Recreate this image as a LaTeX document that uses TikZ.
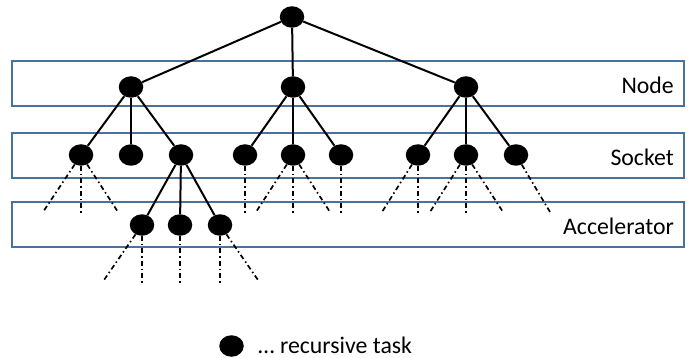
\documentclass[tikz,border=0pt]{standalone}
\usepackage{fontspec}
\setmainfont{Carlito}
\usetikzlibrary{positioning,shapes.geometric}

\definecolor{bandblue}{RGB}{70,115,160}

\begin{document}
\begin{tikzpicture}[x=1pt,y=-1pt,
			task node/.style={ellipse,fill=black,draw=none,inner sep=0pt,
				minimum width=24.5pt,minimum height=21.5pt},
			band node/.style={rectangle,draw=bandblue,line width=1.3pt,
				minimum width=672pt,minimum height=45pt,inner sep=0pt},
			layer text/.style={anchor=east,inner sep=0pt,
				font=\fontsize{23.8}{28}\selectfont},
			tree edge/.style={line width=2pt},
			stub edge/.style={line width=1.7pt,dash pattern=on 5pt off 3pt on 1.5pt off 3pt}
			]
			\useasboundingbox (0,0) rectangle (693,358);
			
			% layers
			\node[band node] (NB) at (348,83.5) {};
			\node[band node] (SB) at (348,155.5) {};
			\node[band node] (AB) at (348,224.5) {};
			\node[layer text] (NT) at (674,85) {Node};
			\node[layer text] (ST) at (674,157) {Socket};
			\node[layer text] (AT) at (674,226) {Accelerator};
			
			% tasks
			\node[task node] (R) at (292,17) {};
			\node[task node] (N1) at (131,87) {};
			\node[task node] (N2) at (293,87) {};
			\node[task node] (N3) at (466,87) {};
			\node[task node] (S11) at (81,155) {};
			\node[task node] (S12) at (131,155) {};
			\node[task node] (S13) at (181,155) {};
			\node[task node] (S21) at (245,155) {};
			\node[task node] (S22) at (293,155) {};
			\node[task node] (S23) at (341,155) {};
			\node[task node] (S31) at (418,155) {};
			\node[task node] (S32) at (466,155) {};
			\node[task node] (S33) at (516,155) {};
			\node[task node] (A1) at (142,225) {};
			\node[task node] (A2) at (180,225) {};
			\node[task node] (A3) at (220,225) {};
			
			% loose ends
			\coordinate (e1) at (43,212);
			\coordinate (e2) at (81,215);
			\coordinate (e3) at (118,212);
			\coordinate (e4) at (245,215);
			\coordinate (e5) at (256,212);
			\coordinate (e6) at (293,215);
			\coordinate (e7) at (330,212);
			\coordinate (e8) at (341,215);
			\coordinate (e9) at (382,212);
			\coordinate (e10) at (418,215);
			\coordinate (e11) at (430,212);
			\coordinate (e12) at (466,215);
			\coordinate (e13) at (503,212);
			\coordinate (e14) at (550,212);
			\coordinate (e15) at (104,280);
			\coordinate (e16) at (142,283);
			\coordinate (e17) at (180,283);
			\coordinate (e18) at (220,283);
			\coordinate (e19) at (258,280);
			
			\path[tree edge]
			(R) edge (N1)
			(R) edge (N2)
			(R) edge (N3)
			(N1) edge (S11)
			(N1) edge (S12)
			(N1) edge (S13)
			(N2) edge (S21)
			(N2) edge (S22)
			(N2) edge (S23)
			(N3) edge (S31)
			(N3) edge (S32)
			(N3) edge (S33)
			(S13) edge (A1)
			(S13) edge (A2)
			(S13) edge (A3)
			;
			
			\path[stub edge]
			(S11) edge (e1)
			(S11) edge (e2)
			(S11) edge (e3)
			(S21) edge (e4)
			(S22) edge (e5)
			(S22) edge (e6)
			(S22) edge (e7)
			(S23) edge (e8)
			(S31) edge (e9)
			(S31) edge (e10)
			(S32) edge (e11)
			(S32) edge (e12)
			(S32) edge (e13)
			(S33) edge (e14)
			(A1) edge (e15)
			(A1) edge (e16)
			(A2) edge (e17)
			(A3) edge (e18)
			(A3) edge (e19)
			;
			
			% legend
			\node[task node] (L) at (231.5,346) {};
			\node[anchor=base west,inner sep=0pt,font=\fontsize{23.8}{28}\selectfont]
				(LT) at (258,353) {… recursive task};
			
		\end{tikzpicture}
\end{document}
